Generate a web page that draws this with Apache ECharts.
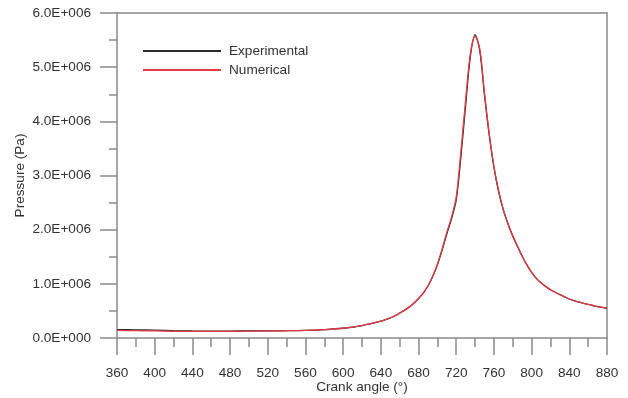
<!DOCTYPE html>
<html><head><meta charset="utf-8">
<script src="https://cdn.jsdelivr.net/npm/echarts@6/dist/echarts.min.js"></script>
<style>html,body{margin:0;padding:0;background:#fff}#c{width:628px;height:398px}</style>
</head><body><div id="c"></div>
<script>
const angles = [360,380,400,420,440,460,480,500,520,540,560,580,600,620,
  640,645,650,655,660,665,670,675,680,685,690,695,700,705,710,715,720,725,730,735,740,745,750,755,760,765,770,775,780,785,790,795,800,805,810,815,820,825,830,835,840,845,850,855,860,865,870,875,880];
const experimental = [0.155,0.15,0.145,0.135,0.13,0.128,0.128,0.13,0.132,0.135,0.14,0.155,0.18,0.23,
  0.31,0.34,0.37,0.41,0.46,0.51,0.57,0.64,0.73,0.83,0.96,1.13,1.35,1.62,1.92,2.2,2.55,3.35,4.3,5.2,5.6,5.3,4.48,3.75,3.15,2.7,2.36,2.1,1.88,1.69,1.51,1.35,1.21,1.1,1.02,0.95,0.89,0.845,0.8,0.76,0.72,0.69,0.665,0.64,0.62,0.6,0.58,0.565,0.55];
const numerical = [0.14,0.135,0.13,0.125,0.122,0.122,0.124,0.127,0.13,0.134,0.14,0.155,0.18,0.23,
  0.31,0.34,0.37,0.41,0.46,0.51,0.57,0.64,0.73,0.83,0.96,1.14,1.36,1.64,1.95,2.23,2.6,3.45,4.4,5.25,5.57,5.34,4.52,3.78,3.17,2.72,2.37,2.11,1.89,1.7,1.51,1.35,1.21,1.1,1.02,0.95,0.89,0.845,0.8,0.76,0.72,0.69,0.665,0.64,0.62,0.6,0.58,0.565,0.55];
const seriesNames = ['Experimental','Numerical'];
const xTicks = [360,880,40];
const yTicks = [0,6e6,1e6];

const toPairs = arr => angles.map((a,i)=>[a, arr[i]*1e6]);
const axisColor = '#8a8a8a';
const font = 'Liberation Sans, Arial, sans-serif';
const fs = 13.6;
const chart = echarts.init(document.getElementById('c'));
chart.setOption({
  animation:false,
  grid:{left:117,right:21,top:13,bottom:60,outerBoundsMode:'none',containLabel:false},
  legend:{
    orient:'vertical', left:138, top:39, itemWidth:78, itemHeight:2, itemGap:5,
    icon:'rect',
    data:seriesNames,
    textStyle:{fontFamily:font,fontSize:fs,color:'#333',lineHeight:14,padding:[0,0,0,3]}
  },
  xAxis:[{
    type:'value', min:xTicks[0], max:xTicks[1], interval:xTicks[2],
    name:'Crank angle (°)', nameLocation:'middle', nameGap:42, nameMoveOverlap:false,
    nameTextStyle:{fontFamily:font,fontSize:fs,color:'#333'},
    axisLine:{onZero:false,lineStyle:{color:axisColor,width:1.5}},
    axisTick:{inside:false,length:17,lineStyle:{color:axisColor,width:1.5}},
    minorTick:{show:true,splitNumber:2,length:9,lineStyle:{color:axisColor,width:1.5}},
    axisLabel:{fontFamily:font,fontSize:fs,color:'#333',margin:28},
    splitLine:{show:false}
  },{
    type:'value', position:'top', min:xTicks[0], max:xTicks[1],
    axisLine:{show:true,onZero:false,lineStyle:{color:axisColor,width:1.5}},
    axisTick:{show:false}, axisLabel:{show:false}, splitLine:{show:false}
  }],
  yAxis:[{
    type:'value', min:yTicks[0], max:yTicks[1], interval:yTicks[2],
    name:'Pressure (Pa)', nameLocation:'middle', nameGap:90, nameMoveOverlap:false,
    nameTextStyle:{fontFamily:font,fontSize:fs,color:'#333'},
    axisLine:{show:true,onZero:false,lineStyle:{color:axisColor,width:1.5}},
    axisTick:{show:true,length:17,lineStyle:{color:axisColor,width:1.5}},
    minorTick:{show:true,splitNumber:2,length:8,lineStyle:{color:axisColor,width:1.5}},
    axisLabel:{fontFamily:font,fontSize:fs,color:'#333',margin:26,
      formatter:v=> v===0 ? '0.0E+000' : (v/1e6).toFixed(1)+'E+006'},
    splitLine:{show:false}
  },{
    type:'value', position:'right', min:yTicks[0], max:yTicks[1],
    axisLine:{show:true,onZero:false,lineStyle:{color:axisColor,width:1.5}},
    axisTick:{show:false}, axisLabel:{show:false}, splitLine:{show:false}
  }],
  series:[{
    name:seriesNames[0], type:'line', smooth:0.3, showSymbol:false,
    data:toPairs(experimental), lineStyle:{color:'#2a2a2a',width:1.3}, itemStyle:{color:'#2a2a2a'}
  },{
    name:seriesNames[1], type:'line', smooth:0.3, showSymbol:false,
    data:toPairs(numerical), lineStyle:{color:'#e23a44',width:1.3}, itemStyle:{color:'#e23a44'}
  }]
});
</script></body></html>
